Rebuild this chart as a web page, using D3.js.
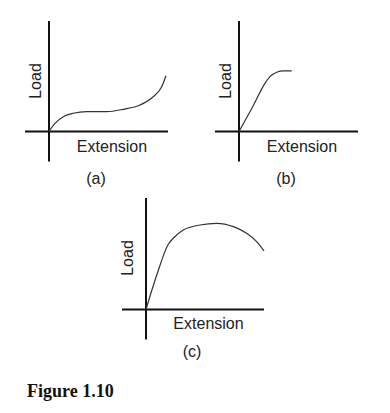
<!DOCTYPE html>
<html>
<head>
<meta charset="utf-8">
<script src="https://cdn.jsdelivr.net/npm/d3@7"></script>
<style>
  body { margin: 0; background: #fff; }
  svg text { font-family: "Liberation Sans", Arial, sans-serif; fill: #222; }
</style>
</head>
<body>
<script>
// curve data, extension vs load in % of the axis length
const curveA = [[0,0],[0.8,1.4],[5,7.4],[12,13.4],[20.4,16.5],[31.7,17.9],[48.5,17.9],[62.4,20.1],[76.5,24],[87.6,31.5],[94.7,40.5],[98.3,50.5]];
const curveB = [[0,0],[11.5,22.4],[21.8,43.6],[26,49.6],[31.7,53.6],[37.2,54.8],[44.3,54.8]];
const curveC = [[0,0],[9.1,30.9],[18.9,58.5],[23.1,63.9],[31.6,71.3],[45.8,75.8],[59.9,77.3],[74,74.3],[85.3,68.3],[93.8,60.8],[100,52.5]];

const panelLabels = ['(a)', '(b)', '(c)'];
const xLabel = 'Extension', yLabel = 'Load';
const caption = 'Figure 1.10';

let width = 390, height = 413;

let svg = d3.select('body').append('svg').attr('width', width).attr('height', height);

// ox, oy = origin; xEnd = end of horizontal axis; yTop = top of vertical axis
let panels = [
    {data: curveA, label: panelLabels[0], ox: 49, oy: 131.5, xEnd: 168, yTop: 21, loadX: 35, loadY: 81, extX: 112, extY: 152, labX: 96, labY: 184},
    {data: curveB, label: panelLabels[1], ox: 239, oy: 131.5, xEnd: 358, yTop: 21, loadX: 225, loadY: 81, extX: 302, extY: 152, labX: 286, labY: 184},
    {data: curveC, label: panelLabels[2], ox: 146, oy: 309.5, xEnd: 264, yTop: 198, loadX: 127.5, loadY: 258, extX: 208.5, extY: 329, labX: 192, labY: 357}
];

panels.forEach(p => {
    let xScale = d3.scaleLinear([0, 100], [p.ox, p.xEnd]),
        yScale = d3.scaleLinear([0, 100], [p.oy, p.yTop]);
    let g = svg.append('g');

    // axes drawn as crossing lines
    g.append('line')
        .attr('x1', p.ox - 24).attr('x2', p.xEnd)
        .attr('y1', p.oy).attr('y2', p.oy)
        .style('stroke', '#111').style('stroke-width', '2px');
    g.append('line')
        .attr('x1', p.ox).attr('x2', p.ox)
        .attr('y1', p.yTop).attr('y2', p.oy + 30)
        .style('stroke', '#111').style('stroke-width', '2px');

    let lineGen = d3.line()
        .x(d => xScale(d[0]))
        .y(d => yScale(d[1]))
        .curve(d3.curveMonotoneX);
    g.append('path')
        .datum(p.data)
        .attr('d', lineGen)
        .style('fill', 'none')
        .style('stroke', '#333')
        .style('stroke-width', '1.2px');

    g.append('text')
        .attr('transform', `translate(${p.loadX + 5.5},${p.loadY}) rotate(-90)`)
        .attr('text-anchor', 'middle')
        .style('font-size', '16px')
        .text(yLabel);
    g.append('text')
        .attr('x', p.extX).attr('y', p.extY)
        .attr('text-anchor', 'middle')
        .style('font-size', '16px')
        .text(xLabel);
    g.append('text')
        .attr('x', p.labX).attr('y', p.labY)
        .attr('text-anchor', 'middle')
        .style('font-size', '16px')
        .text(p.label);
});

svg.append('text')
    .attr('x', 27).attr('y', 397)
    .style('font-family', '"Liberation Serif", "Times New Roman", serif')
    .style('font-weight', 'bold')
    .style('font-size', '18px')
    .style('fill', '#111')
    .text(caption);
</script>
</body>
</html>
